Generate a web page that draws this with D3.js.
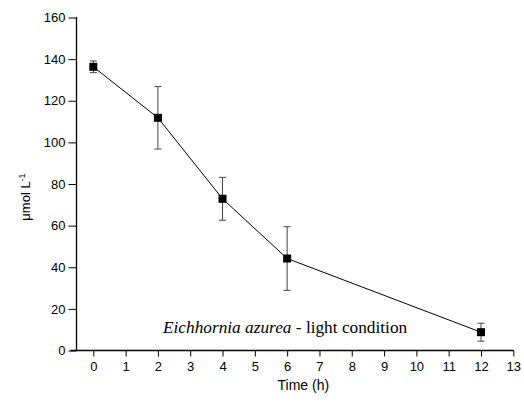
<!DOCTYPE html>
<html>
<head>
<meta charset="utf-8">
<script src="https://cdn.jsdelivr.net/npm/d3@7"></script>
<style>
  body { margin: 0; background: #fff; }
  svg { display: block; }
</style>
</head>
<body>
<div id="chart"></div>
<script>
const times = [0, 2, 4, 6, 12];
const means = [136.3, 111.8, 72.9, 44.2, 8.8];
const errors = [2.8, 15.0, 10.3, 15.3, 4.3];
const xTicks = d3.range(0, 14);
const yTicks = d3.range(0, 161, 20);

const width = 524, height = 405;
const svg = d3.select("#chart").append("svg")
    .attr("width", width)
    .attr("height", height);

const x = d3.scaleLinear().domain([0, 13]).range([93.3, 513.3]);
const y = d3.scaleLinear().domain([0, 160]).range([350.5, 17.5]);
const axisX = 76.5;

// x axis
const gx = svg.append("g")
    .attr("transform", `translate(0, ${y(0)})`)
    .call(d3.axisBottom(x).tickValues(xTicks).tickSize(6).tickPadding(5).tickSizeOuter(0));
gx.select(".domain").remove();
gx.append("line")
    .attr("x1", axisX - 6).attr("x2", x(13) + 0.5)
    .attr("stroke", "#000").attr("stroke-width", 1.3);

// y axis
const gy = svg.append("g")
    .attr("transform", `translate(${axisX}, 0)`)
    .call(d3.axisLeft(y).tickValues(yTicks).tickSize(8).tickPadding(3).tickSizeOuter(0));
gy.select(".domain").remove();
gy.append("line")
    .attr("y1", y(0)).attr("y2", y(160) - 0.5)
    .attr("stroke", "#000").attr("stroke-width", 1.3);

svg.selectAll(".tick text")
    .attr("font-family", "Liberation Sans, Arial, sans-serif")
    .attr("font-size", 13)
    .attr("fill", "#000");
svg.selectAll(".tick line").attr("stroke", "#000");

// axis titles
svg.append("text")
    .attr("x", x(6.5)).attr("y", 390)
    .attr("text-anchor", "middle")
    .attr("font-family", "Liberation Sans, Arial, sans-serif")
    .attr("font-size", 14)
    .text("Time (h)");

const ylab = svg.append("text")
    .attr("transform", `translate(30, 197) rotate(-90)`)
    .attr("text-anchor", "middle")
    .attr("font-family", "Liberation Sans, Arial, sans-serif")
    .attr("font-size", 13);
ylab.append("tspan").text("\u03bcmol L");
ylab.append("tspan").attr("dy", -5).attr("font-size", 9).text("-1");

// line
const data = times.map((t, i) => ({ t, m: means[i], e: errors[i] }));
svg.append("path")
    .datum(data)
    .attr("fill", "none")
    .attr("stroke", "#000")
    .attr("stroke-width", 1)
    .attr("d", d3.line().x(d => x(d.t)).y(d => y(d.m)));

// error bars
const eb = svg.append("g").attr("stroke", "#444").attr("stroke-width", 1);
eb.selectAll("line.v").data(data).join("line")
    .attr("x1", d => x(d.t)).attr("x2", d => x(d.t))
    .attr("y1", d => y(d.m + d.e)).attr("y2", d => y(d.m - d.e));
eb.selectAll("line.top").data(data).join("line")
    .attr("x1", d => x(d.t) - 3.5).attr("x2", d => x(d.t) + 3.5)
    .attr("y1", d => y(d.m + d.e)).attr("y2", d => y(d.m + d.e));
eb.selectAll("line.bot").data(data).join("line")
    .attr("x1", d => x(d.t) - 3.5).attr("x2", d => x(d.t) + 3.5)
    .attr("y1", d => y(d.m - d.e)).attr("y2", d => y(d.m - d.e));

// markers
svg.append("g").selectAll("rect").data(data).join("rect")
    .attr("x", d => x(d.t) - 4).attr("y", d => y(d.m) - 4)
    .attr("width", 8).attr("height", 8)
    .attr("fill", "#000");

// annotation
const ann = svg.append("text")
    .attr("x", 163).attr("y", 333)
    .attr("font-family", "Liberation Serif, Times New Roman, serif")
    .attr("font-size", 17.3);
ann.append("tspan").attr("font-style", "italic").text("Eichhornia azurea");
ann.append("tspan").text(" - light condition");
</script>
</body>
</html>
